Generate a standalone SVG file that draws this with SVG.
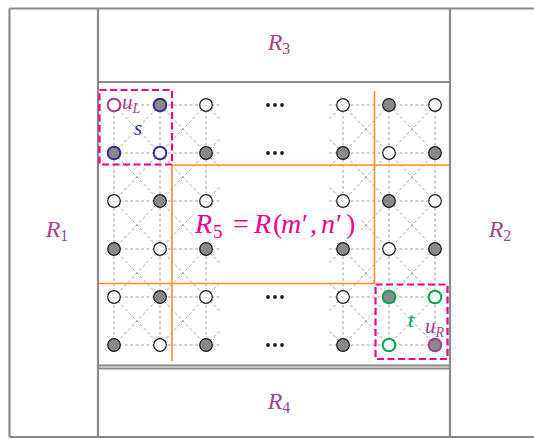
<svg xmlns="http://www.w3.org/2000/svg" width="534" height="439" viewBox="0 0 534 439">
  <style>
    .frame { fill: none; stroke: #8a8a8a; stroke-width: 2.2; }
    .grid { fill: none; stroke: #959595; stroke-width: 0.9; stroke-dasharray: 3 2.4; }
    .cut { fill: none; stroke: #f7931e; stroke-width: 1.6; }
    .box { fill: none; stroke: #ec008c; stroke-width: 2.2; stroke-dasharray: 7 3.5; }
    .v { stroke: #1a1a1a; stroke-width: 1.2; }
    .o { fill: #ffffff; }
    .f { fill: #8a8a8a; }
    .pu { stroke: #a0418e; stroke-width: 2; }
    .bl { stroke: #2e3192; stroke-width: 2; }
    .gr { stroke: #00a651; stroke-width: 2; }
    .lbl { font-family: "Liberation Serif", "Times New Roman", serif; font-style: italic; font-size: 24px; fill: #a3458f; }
    .sub { font-style: normal; font-size: 16px; }
    .mark { font-family: "Liberation Serif", "Times New Roman", serif; font-style: italic; font-size: 21px; }
    .big { font-family: "Liberation Serif", "Times New Roman", serif; font-size: 28px; fill: #ec008c; }
    .it { font-style: italic; }
  </style>

  <!-- region frames -->
  <g id="frames">
    <path class="frame" d="M9.5 8.5H536M9.5 437H536M9.5 8.5V437M98 8.5V437M450 8.5V437M98 82H450M98 365.5H450M98 368.5H450"/>
  </g>

  <g id="R1"><text class="lbl" x="57" y="237" text-anchor="middle">R<tspan class="sub" dy="4">1</tspan></text></g>
  <g id="R2"><text class="lbl" x="500" y="237" text-anchor="middle">R<tspan class="sub" dy="4">2</tspan></text></g>
  <g id="R3"><text class="lbl" x="279" y="50" text-anchor="middle">R<tspan class="sub" dy="4">3</tspan></text></g>
  <g id="R4"><text class="lbl" x="279" y="409" text-anchor="middle">R<tspan class="sub" dy="4">4</tspan></text></g>

  <!-- lattice edges -->
  <g id="edges">
    <path class="grid" d="M114 105H220M114 153H220M114 201H220M114 249H220M114 297H220M114 345H220
      M329 105H435M329 153H435M329 201H435M329 249H435M329 297H435M329 345H435
      M114 105V345M160 105V345M206 105V345M343 105V345M389 105V345M435 105V345"/>
    <path class="grid" d="M114 105L160 153M160 105L114 153M114 153L160 201M160 153L114 201M114 201L160 249M160 201L114 249M114 249L160 297M160 249L114 297M114 297L160 345M160 297L114 345
      M160 105L206 153M206 105L160 153M160 153L206 201M206 153L160 201M160 201L206 249M206 201L160 249M160 249L206 297M206 249L160 297M160 297L206 345M206 297L160 345
      M343 105L389 153M389 105L343 153M343 153L389 201M389 153L343 201M343 201L389 249M389 201L343 249M343 249L389 297M389 249L343 297M343 297L389 345M389 297L343 345
      M389 105L435 153M435 105L389 153M389 153L435 201M435 153L389 201M389 201L435 249M435 201L389 249M389 249L435 297M435 249L389 297M389 297L435 345M435 297L389 345"/>
    <path class="grid" d="M206 153L220 138.6M206 201L220 186.6M206 249L220 234.6M206 297L220 282.6M206 345L220 330.6
      M206 105L220 119.4M206 153L220 167.4M206 201L220 215.4M206 249L220 263.4M206 297L220 311.4
      M343 153L329 138.6M343 201L329 186.6M343 249L329 234.6M343 297L329 282.6M343 345L329 330.6
      M343 105L329 119.4M343 153L329 167.4M343 201L329 215.4M343 249L329 263.4M343 297L329 311.4"/>
  </g>

  <!-- sub-region cuts -->
  <g id="cuts">
    <path class="cut" d="M172 165H449M99 283.5H374.5M172 165V361M374.5 91V283.5"/>
  </g>

  <!-- elided columns -->
  <g id="ellipses" fill="#1a1a1a">
    <circle cx="268" cy="105" r="1.9"/><circle cx="275" cy="105" r="1.9"/><circle cx="282" cy="105" r="1.9"/>
    <circle cx="268" cy="153" r="1.9"/><circle cx="275" cy="153" r="1.9"/><circle cx="282" cy="153" r="1.9"/>
    <circle cx="268" cy="297" r="1.9"/><circle cx="275" cy="297" r="1.9"/><circle cx="282" cy="297" r="1.9"/>
    <circle cx="268" cy="345" r="1.9"/><circle cx="275" cy="345" r="1.9"/><circle cx="282" cy="345" r="1.9"/>
  </g>

  <!-- R5 label, math-spaced -->
  <g id="R5">
    <rect x="193" y="208" width="168" height="35" fill="#ffffff"/>
    <text class="big" y="233"><tspan class="it" x="195">R</tspan><tspan font-size="19" x="213" dy="5">5</tspan><tspan x="233" dy="-5">=</tspan><tspan class="it" x="254">R</tspan><tspan x="273">(</tspan><tspan x="281" class="it">m</tspan><tspan x="302">′</tspan><tspan x="310">,</tspan><tspan class="it" x="321">n</tspan><tspan x="336">′</tspan><tspan x="346">)</tspan></text>
  </g>

  <!-- lattice vertices -->
  <g id="vertices">
    <g id="v0-0"><circle class="v o pu" cx="114" cy="105" r="6.3"/></g>
    <g id="v0-1"><circle class="v f bl" cx="160" cy="105" r="6.3"/></g>
    <g id="v0-2"><circle class="v o" cx="206" cy="105" r="6.3"/></g>
    <g id="v0-3"><circle class="v o" cx="343" cy="105" r="6.3"/></g>
    <g id="v0-4"><circle class="v f" cx="389" cy="105" r="6.3"/></g>
    <g id="v0-5"><circle class="v o" cx="435" cy="105" r="6.3"/></g>

    <g id="v1-0"><circle class="v f bl" cx="114" cy="153" r="6.3"/></g>
    <g id="v1-1"><circle class="v o bl" cx="160" cy="153" r="6.3"/></g>
    <g id="v1-2"><circle class="v f" cx="206" cy="153" r="6.3"/></g>
    <g id="v1-3"><circle class="v f" cx="343" cy="153" r="6.3"/></g>
    <g id="v1-4"><circle class="v o" cx="389" cy="153" r="6.3"/></g>
    <g id="v1-5"><circle class="v f" cx="435" cy="153" r="6.3"/></g>

    <g id="v2-0"><circle class="v o" cx="114" cy="201" r="6.3"/></g>
    <g id="v2-1"><circle class="v f" cx="160" cy="201" r="6.3"/></g>
    <g id="v2-2"><circle class="v o" cx="206" cy="201" r="6.3"/></g>
    <g id="v2-3"><circle class="v o" cx="343" cy="201" r="6.3"/></g>
    <g id="v2-4"><circle class="v f" cx="389" cy="201" r="6.3"/></g>
    <g id="v2-5"><circle class="v o" cx="435" cy="201" r="6.3"/></g>

    <g id="v3-0"><circle class="v f" cx="114" cy="249" r="6.3"/></g>
    <g id="v3-1"><circle class="v o" cx="160" cy="249" r="6.3"/></g>
    <g id="v3-2"><circle class="v f" cx="206" cy="249" r="6.3"/></g>
    <g id="v3-3"><circle class="v f" cx="343" cy="249" r="6.3"/></g>
    <g id="v3-4"><circle class="v o" cx="389" cy="249" r="6.3"/></g>
    <g id="v3-5"><circle class="v f" cx="435" cy="249" r="6.3"/></g>

    <g id="v4-0"><circle class="v o" cx="114" cy="297" r="6.3"/></g>
    <g id="v4-1"><circle class="v f" cx="160" cy="297" r="6.3"/></g>
    <g id="v4-2"><circle class="v o" cx="206" cy="297" r="6.3"/></g>
    <g id="v4-3"><circle class="v o" cx="343" cy="297" r="6.3"/></g>
    <g id="v4-4"><circle class="v f gr" cx="389" cy="297" r="6.3"/></g>
    <g id="v4-5"><circle class="v o gr" cx="435" cy="297" r="6.3"/></g>

    <g id="v5-0"><circle class="v f" cx="114" cy="345" r="6.3"/></g>
    <g id="v5-1"><circle class="v o" cx="160" cy="345" r="6.3"/></g>
    <g id="v5-2"><circle class="v f" cx="206" cy="345" r="6.3"/></g>
    <g id="v5-3"><circle class="v f" cx="343" cy="345" r="6.3"/></g>
    <g id="v5-4"><circle class="v o gr" cx="389" cy="345" r="6.3"/></g>
    <g id="v5-5"><circle class="v f pu" cx="435" cy="345" r="6.3"/></g>
  </g>

  <!-- source and target blocks -->
  <g id="block-s">
    <rect class="box" x="99.5" y="90" width="72.5" height="74.5"/>
    <text class="mark" x="122" y="109" fill="#a0418e">u<tspan font-size="14" dy="4">L</tspan></text>
    <text class="mark" x="134" y="135" fill="#2e3192">s</text>
  </g>
  <g id="block-t">
    <rect class="box" x="375.5" y="284.5" width="72" height="74.5"/>
    <text class="mark" x="408" y="327" fill="#00a651">t</text>
    <text class="mark" x="425" y="333" fill="#a0418e">u<tspan font-size="14" dy="4">R</tspan></text>
  </g>
</svg>
